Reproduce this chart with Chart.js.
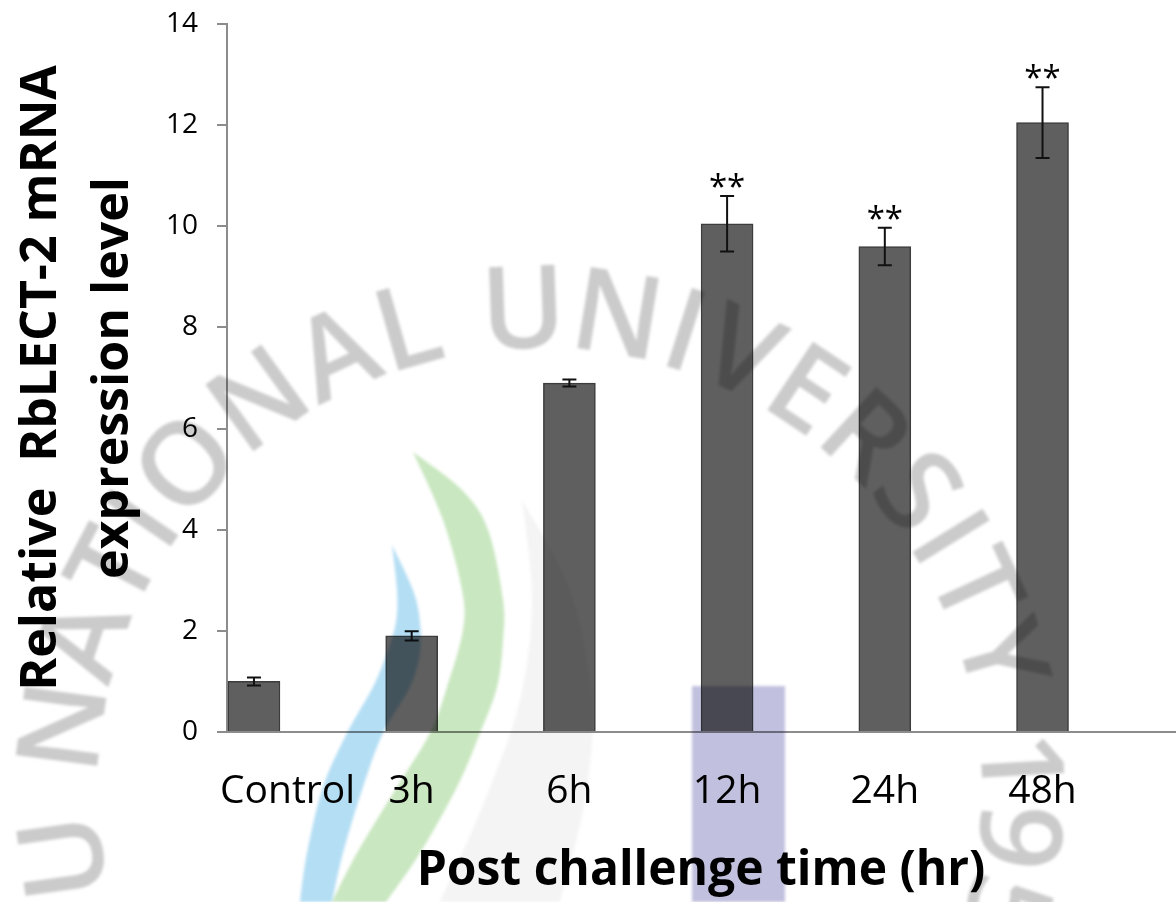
<!DOCTYPE html>
<html>
<head>
<meta charset="utf-8">
<script src="https://cdn.jsdelivr.net/npm/chart.js@4.4.1/dist/chart.umd.min.js"></script>
<style>
  html, body { margin: 0; padding: 0; background: #ffffff; }
  #wrap { width: 1176px; height: 902px; position: relative; }
</style>
</head>
<body>
<div id="wrap"><canvas id="chart" width="1176" height="902"></canvas></div>
<script>
// Relative RbLECT-2 mRNA expression after challenge
const categories   = ['Control', '3h', '6h', '12h', '24h', '48h'];
const expression   = [1.0, 1.9, 6.9, 10.05, 9.6, 12.05];
const errors       = [0.08, 0.09, 0.07, 0.55, 0.37, 0.70];
const significance = ['', '', '', '**', '**', '**'];
const yTicks       = [0, 2, 4, 6, 8, 10, 12, 14];

const AXIS_GREY = '#8c8c8c';
const TEXT_FONT = '"Open Sans", "Noto Sans", sans-serif';

// Smooth outline through a list of points (Catmull-Rom as cubic Béziers)
function smoothThrough(ctx, pts, moveFirst) {
  if (moveFirst) ctx.moveTo(pts[0][0], pts[0][1]); else ctx.lineTo(pts[0][0], pts[0][1]);
  for (let i = 0; i < pts.length - 1; i++) {
    const p0 = pts[Math.max(0, i - 1)], p1 = pts[i], p2 = pts[i + 1], p3 = pts[Math.min(pts.length - 1, i + 2)];
    const c1 = [p1[0] + (p2[0] - p0[0]) / 6, p1[1] + (p2[1] - p0[1]) / 6];
    const c2 = [p2[0] - (p3[0] - p1[0]) / 6, p2[1] - (p3[1] - p1[1]) / 6];
    ctx.bezierCurveTo(c1[0], c1[1], c2[0], c2[1], p2[0], p2[1]);
  }
}
function crescent(ctx, left, right, color) {
  ctx.beginPath();
  smoothThrough(ctx, left, true);
  smoothThrough(ctx, right.slice().reverse(), false);
  ctx.closePath();
  ctx.fillStyle = color;
  ctx.fill();
}

// University seal watermark printed over the figure
const sealPlugin = {
  id: 'seal',
  afterDraw(chart) {
    const ctx = chart.ctx;
    ctx.save();
    ctx.globalCompositeOperation = 'multiply';
    ctx.filter = 'blur(1.5px)';

    // faint grey sweep
    crescent(ctx,
      [[522, 500], [532, 600], [520, 700], [485, 800], [440, 902]],
      [[522, 500], [570, 590], [592, 700], [585, 800], [560, 902]],
      'rgb(244,244,244)');
    // blue sweep
    crescent(ctx,
      [[392, 545], [397, 590], [396, 622], [387, 653], [373, 687], [347, 733], [323, 787], [307, 853], [300, 902]],
      [[392, 545], [413, 590], [420, 622], [420, 653], [410, 687], [383, 733], [363, 787], [343, 853], [332, 902]],
      'rgb(180,222,244)');
    // green sweep
    crescent(ctx,
      [[413, 452], [443, 520], [462, 590], [463, 630], [447, 687], [430, 733], [397, 787], [357, 853], [332, 902]],
      [[413, 452], [462, 490], [488, 530], [503, 600], [503, 640], [497, 687], [480, 733], [457, 787], [420, 853], [386, 902]],
      'rgb(201,231,192)');

    // lettering round the seal
    const cx = 540, cy = 790, r = 475;
    const text = 'JEJU NATIONAL UNIVERSITY 1952';
    ctx.font = '600 115px ' + TEXT_FONT;
    ctx.fillStyle = 'rgb(203,203,203)';
    ctx.textAlign = 'center';
    ctx.textBaseline = 'middle';
    const spacing = 6;
    const widths = Array.from(text).map(ch => ctx.measureText(ch).width);
    const centres = [];
    let run = 0;
    widths.forEach((w, i) => { centres.push(run + w / 2); run += w + spacing; });
    const anchorIdx = text.indexOf('UNIVERSITY');
    const theta0 = 268 * Math.PI / 180 - centres[anchorIdx] / r;
    Array.from(text).forEach((ch, i) => {
      if (ch === ' ') return;
      const a = theta0 + centres[i] / r;
      ctx.save();
      ctx.translate(cx + r * Math.cos(a), cy + r * Math.sin(a));
      ctx.rotate(a + Math.PI / 2);
      ctx.fillText(ch, 0, 0);
      ctx.restore();
    });

    // violet block of the emblem
    ctx.fillStyle = 'rgb(193,193,223)';
    ctx.fillRect(692, 686, 93, 216);
    ctx.restore();
  }
};

// Error bars and significance marks
const errorBarPlugin = {
  id: 'errorBars',
  afterDatasetsDraw(chart) {
    const ctx = chart.ctx;
    const y = chart.scales.y;
    const meta = chart.getDatasetMeta(0);
    ctx.save();
    ctx.strokeStyle = '#111111';
    ctx.lineWidth = 2;
    meta.data.forEach((bar, i) => {
      const top = y.getPixelForValue(expression[i] + errors[i]);
      const bot = y.getPixelForValue(expression[i] - errors[i]);
      const half = 7;
      ctx.beginPath();
      ctx.moveTo(bar.x, top); ctx.lineTo(bar.x, bot);
      ctx.moveTo(bar.x - half, top); ctx.lineTo(bar.x + half, top);
      ctx.moveTo(bar.x - half, bot); ctx.lineTo(bar.x + half, bot);
      ctx.stroke();
      if (significance[i]) {
        ctx.font = '33px ' + TEXT_FONT;
        ctx.fillStyle = '#000';
        ctx.textAlign = 'center';
        ctx.textBaseline = 'alphabetic';
        const m = ctx.measureText(significance[i]);
        ctx.fillText(significance[i], bar.x, top - 8 - m.actualBoundingBoxDescent);
      }
    });
    ctx.restore();
  }
};

// Category labels under the bars, kept from running left of the value axis
const categoryLabelPlugin = {
  id: 'categoryLabels',
  afterDraw(chart) {
    const ctx = chart.ctx;
    const xs = chart.scales.x;
    const area = chart.chartArea;
    ctx.save();
    ctx.font = '39px ' + TEXT_FONT;
    ctx.fillStyle = '#000';
    ctx.textBaseline = 'middle';
    ctx.textAlign = 'left';
    categories.forEach((label, i) => {
      const w = ctx.measureText(label).width;
      const centre = xs.getPixelForValue(i);
      const left = Math.max(centre - w / 2, area.left - 7);
      ctx.fillText(label, left, area.bottom + 60);
    });
    ctx.restore();
  }
};

new Chart(document.getElementById('chart'), {
  type: 'bar',
  data: {
    datasets: [{
      data: expression.map((v, i) => ({ x: i, y: v })),
      backgroundColor: '#5f5f5f',
      borderColor: '#3c3c3c',
      borderWidth: 1.5,
      barThickness: 52
    }]
  },
  options: {
    responsive: false,
    animation: false,
    devicePixelRatio: 1,
    layout: { padding: { top: 24, right: 1, left: 0, bottom: 0 } },
    plugins: { legend: { display: false }, tooltip: { enabled: false } },
    scales: {
      x: {
        type: 'linear',
        offset: false,
        min: -0.171,
        max: 5.84,
        grid: { display: false },
        border: { display: true, color: AXIS_GREY, width: 2 },
        ticks: { display: false },
        title: {
          display: true,
          text: 'Post challenge time (hr)',
          color: '#000',
          font: { family: TEXT_FONT, weight: 'bold', size: 48, lineHeight: 1.2 },
          padding: { top: 0, bottom: 2 }
        },
        afterFit(scale) { scale.height = 170; }
      },
      y: {
        min: 0,
        max: 14,
        afterBuildTicks(scale) { scale.ticks = yTicks.map(v => ({ value: v })); },
        ticks: { color: '#000', font: { family: TEXT_FONT, size: 28 }, padding: 19 },
        grid: { display: true, drawOnChartArea: false, drawTicks: true, tickLength: 10, color: AXIS_GREY, lineWidth: 2 },
        border: { display: true, color: AXIS_GREY, width: 2 },
        title: {
          display: true,
          text: ['Relative  RbLECT-2 mRNA', 'expression level'],
          color: '#000',
          font: { family: TEXT_FONT, weight: 'bold', size: 50, lineHeight: 1.45 },
          padding: { top: 5, bottom: 0 }
        },
        afterFit(scale) {
          scale.width = 227;
          // the outer labels fit inside the layout padding
          scale.paddingTop = 0;
          scale.paddingBottom = 0;
        }
      }
    }
  },
  plugins: [errorBarPlugin, categoryLabelPlugin, sealPlugin]
});
</script>
</body>
</html>
